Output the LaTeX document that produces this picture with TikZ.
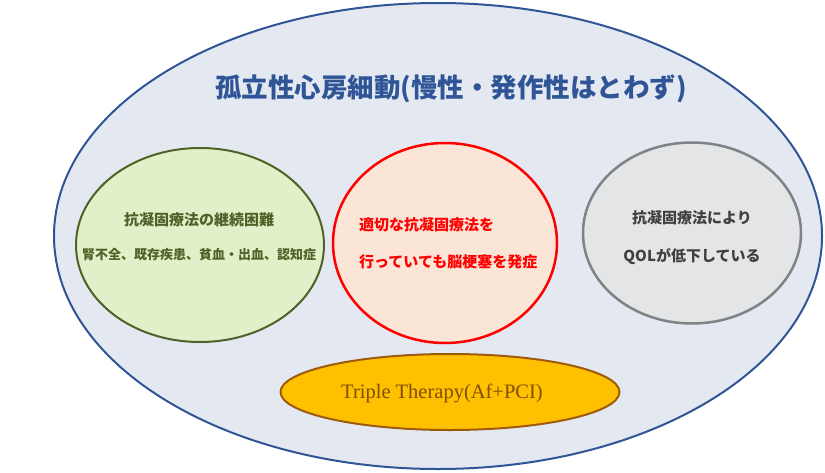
\documentclass[tikz,border=0pt]{standalone}
\usepackage{fontspec}
\setmainfont{Liberation Serif}
\newfontfamily\cjk{Noto Sans CJK JP}
\usetikzlibrary{shapes.geometric}
\definecolor{outerfill}{HTML}{E4E9F1}
\definecolor{outerline}{HTML}{2F5597}
\definecolor{greenfill}{HTML}{E2F0C9}
\definecolor{greenline}{HTML}{4F6228}
\definecolor{redfill}{HTML}{FBE5D6}
\definecolor{grayfill}{HTML}{E3E5E7}
\definecolor{grayline}{HTML}{7F8385}
\definecolor{grayText}{HTML}{404040}
\definecolor{orangefill}{HTML}{FFC000}
\definecolor{orangeline}{HTML}{9C5B0E}
\definecolor{orangeText}{HTML}{7F4F00}
\definecolor{titleblue}{HTML}{2F5597}
\tikzset{
  oval/.style={ellipse, inner sep=0pt},
  lbl/.style={inner sep=0pt, font=\cjk\bfseries}
}
\begin{document}
\begin{tikzpicture}[x=1pt,y=-1pt]
\useasboundingbox (0,0) rectangle (825,472);
\node[oval, fill=outerfill, draw=outerline, line width=2pt, minimum width=768pt, minimum height=466pt] (outer) at (438,236) {};
\node[lbl, text=titleblue, font=\cjk\bfseries\fontsize{26.5}{30}\selectfont] (title) at (451,89) {孤立性心房細動(慢性・発作性はとわず)};
\node[oval, fill=greenfill, draw=greenline, line width=2pt, minimum width=248pt, minimum height=194pt] (green) at (200,245) {};
\node[lbl, text=greenline, font=\cjk\bfseries\fontsize{15}{18}\selectfont] (g1) at (199,220) {抗凝固療法の継続困難};
\node[lbl, text=greenline, font=\cjk\bfseries\fontsize{13}{16}\selectfont] (g2) at (199,255) {腎不全、既存疾患、貧血・出血、認知症};
\node[oval, fill=redfill, draw=red, line width=2.5pt, minimum width=224pt, minimum height=200pt] (redov) at (445,243) {};
\node[lbl, text=red, anchor=west, font=\cjk\bfseries\fontsize{15}{18}\selectfont] (r1) at (359,225) {適切な抗凝固療法を};
\node[lbl, text=red, anchor=west, font=\cjk\bfseries\fontsize{15}{18}\selectfont] (r2) at (359,262) {行っていても脳梗塞を発症};
\node[oval, fill=grayfill, draw=grayline, line width=2.5pt, minimum width=218pt, minimum height=181pt] (grayov) at (692,233) {};
\node[lbl, text=grayText, font=\cjk\bfseries\fontsize{15}{18}\selectfont] (q1) at (692,218) {抗凝固療法により};
\node[lbl, text=grayText, font=\cjk\bfseries\fontsize{15}{18}\selectfont] (q2) at (692,256) {QOLが低下している};
\node[oval, fill=orangefill, draw=orangeline, line width=2pt, minimum width=339pt, minimum height=76pt] (orange) at (450,392) {};
\node[inner sep=0pt, text=orangeText, font=\fontsize{20.5}{24}\selectfont] (tt) at (442,393) {Triple Therapy(Af+PCI)};
\end{tikzpicture}
\end{document}
